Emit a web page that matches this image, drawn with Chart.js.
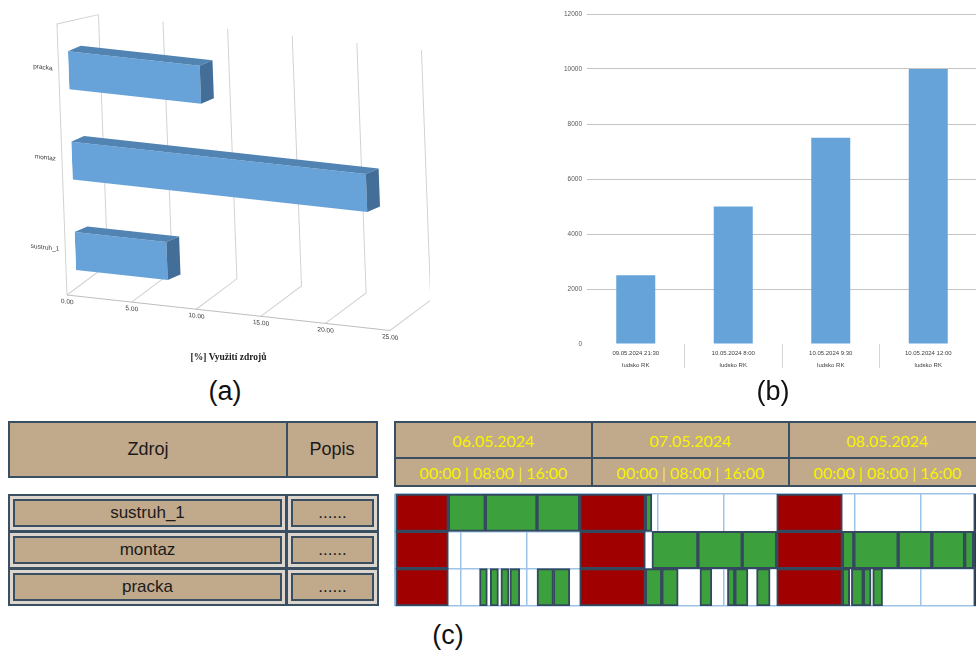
<!DOCTYPE html>
<html>
<head>
<meta charset="utf-8">
<script src="https://cdn.jsdelivr.net/npm/chart.js@4.4.1/dist/chart.umd.min.js"></script>
<style>
html, body { margin: 0; padding: 0; width: 976px; height: 653px; overflow: hidden; background: #fff; }
canvas { position: absolute; }
.caption { position: absolute; width: 60px; margin-left: -30px; text-align: center; font: 27px 'Liberation Sans', Arial, sans-serif; line-height: 1; color: #111; }
#resHead { position: absolute; left: 8px; top: 421px; width: 370px; height: 57px; box-sizing: border-box; border: 2px solid #3b4f63; background: #c1a98c; display: grid; grid-template-columns: 276px 1fr; }
#resHead div { display: flex; align-items: center; justify-content: center; font: 18px 'Liberation Sans', Arial, sans-serif; color: #1b1b1b; }
#resHead div + div { border-left: 2px solid #3b4f63; }
#resRows { position: absolute; left: 8px; top: 494px; width: 371px; height: 112px; box-sizing: border-box; background: #3b4f63; padding: 1px; display: grid; grid-template-columns: 277px 1fr; grid-auto-rows: 1fr; gap: 1px; }
#resRows div { box-sizing: border-box; border: 1px solid #3b4f63; background: #c1a98c; box-shadow: inset 0 0 0 3px #dcd6ce, inset 0 0 0 5px #3b4f63; display: flex; align-items: center; justify-content: center; font: 17px 'Liberation Sans', Arial, sans-serif; color: #1b1b1b; }
#timeHead { position: absolute; left: 394px; top: 421px; width: 593px; border-collapse: collapse; table-layout: fixed; }
#timeHead td { border: 2px solid #3b4f63; background: #c1a98c; color: #f7f300; text-align: center; padding: 0; font-family: Lato, 'Open Sans', sans-serif; white-space: nowrap; }
#timeHead tr.days td { height: 34px; font-size: 16px; }
#timeHead tr.shifts td { height: 26px; font-size: 16px; }
</style>
</head>
<body>
<canvas id="usage" width="430" height="375" style="left:0;top:0"></canvas>
<canvas id="load" width="440" height="380" style="left:540px;top:0"></canvas>
<div class="caption" style="left:225px;top:378px">(a)</div>
<div class="caption" style="left:773px;top:378px">(b)</div>

<div id="resHead"></div>
<div id="resRows"></div>
<table id="timeHead"></table>
<canvas id="gantt" width="595" height="116" style="left:393px;top:492px"></canvas>
<div class="caption" style="left:448px;top:622px">(c)</div>

<script>
// (a) utilisation of resources
const usageLabels = ['pracka', 'montaz', 'sustruh_1'];
const usageValues = [10.2, 22.8, 7.1];

// (b) load over time
const loadDates = ['09.05.2024 21:30', '10.05.2024 8:00', '10.05.2024 9:30', '10.05.2024 12:00'];
const loadGroups = ['ludsko RK', 'ludsko RK', 'ludsko RK', 'ludsko RK'];
const loadValues = [2500, 5000, 7500, 10000];

// (c) gantt: resources, header, non-working time and operations [start h, end h] from 06.05. 00:00
const resources = ['sustruh_1', 'montaz', 'pracka'];
const descriptions = ['......', '......', '......'];
const ganttDays = ['06.05.2024', '07.05.2024', '08.05.2024'];
const shiftStarts = ['00:00', '08:00', '16:00'];
const offShift = [[0, 6.5], [22.5, 30.5], [46.5, 54.5], [70.5, 78.5]];
const sustruhTasks = [[6.5, 11.0], [11.0, 17.3], [17.3, 22.5], [30.5, 31.3]];
const montazTasks = [[31.3, 36.9], [36.9, 42.3], [42.3, 46.5], [54.5, 55.9], [55.9, 61.3], [61.3, 65.4], [65.4, 69.4], [69.4, 70.5]];
const prackaTasks = [[10.3, 11.25], [11.6, 12.6], [12.9, 13.9], [14.0, 15.2], [17.3, 19.3], [19.3, 21.3],
    [30.5, 32.5], [32.5, 34.5], [37.15, 38.6], [40.5, 41.4], [41.4, 43.0], [44.05, 45.7],
    [54.5, 55.4], [55.6, 57.05], [57.05, 58.0], [58.2, 59.4]];

const tinyFont = { family: "'Liberation Sans', Arial, sans-serif", size: 6.5 };

// 3D look for chart (a): shear the drawing, walls behind, top/side faces on bars
const SHEAR_X = 0.037, SHEAR_Y = 0.11;
const WALL_DX = 42, WALL_TOP_DY = -14, WALL_BOTTOM_DY = -35;
const BAR_SHIFT = 10, BAR_DX = 13, BAR_DY = 7;
const perspective = {
    id: 'perspective',
    beforeDraw(chart) {
        const { ctx, chartArea } = chart;
        ctx.save();
        ctx.transform(1, SHEAR_Y, SHEAR_X, 1, -SHEAR_X * chartArea.bottom, -SHEAR_Y * chartArea.left);
    },
    beforeDatasetsDraw(chart) {
        const { ctx, chartArea: { left, right, top, bottom } } = chart;
        const xs = chart.scales.x;
        ctx.save();
        ctx.strokeStyle = '#d2d2d2';
        ctx.lineWidth = 1;
        ctx.beginPath();
        xs.ticks.forEach(t => {
            const px = xs.getPixelForValue(t.value);
            ctx.moveTo(px, bottom);
            ctx.lineTo(px + WALL_DX, bottom + WALL_BOTTOM_DY);
            ctx.lineTo(px + WALL_DX, top + WALL_TOP_DY);
        });
        ctx.moveTo(left + WALL_DX, top + WALL_TOP_DY);
        ctx.lineTo(left, top);
        ctx.lineTo(left, bottom);
        ctx.stroke();
        ctx.strokeStyle = '#bdbdbd';
        ctx.beginPath();
        ctx.moveTo(left, bottom);
        ctx.lineTo(right, bottom);
        ctx.stroke();
        ctx.restore();
        ctx.save();
        ctx.translate(BAR_SHIFT, 0);
    },
    afterDatasetsDraw(chart) {
        const ctx = chart.ctx;
        chart.getDatasetMeta(0).data.forEach(bar => {
            const { x, y, base, height } = bar.getProps(['x', 'y', 'base', 'height'], true);
            const t = y - height / 2, b = y + height / 2;
            ctx.fillStyle = '#5183b3';
            ctx.beginPath();
            ctx.moveTo(base, t); ctx.lineTo(x, t);
            ctx.lineTo(x + BAR_DX, t - BAR_DY); ctx.lineTo(base + BAR_DX, t - BAR_DY);
            ctx.closePath(); ctx.fill();
            ctx.fillStyle = '#426e97';
            ctx.beginPath();
            ctx.moveTo(x, t); ctx.lineTo(x + BAR_DX, t - BAR_DY);
            ctx.lineTo(x + BAR_DX, b - BAR_DY); ctx.lineTo(x, b);
            ctx.closePath(); ctx.fill();
        });
        ctx.restore();
        ctx.restore();
    }
};

const usageChart = new Chart(document.getElementById('usage'), {
    type: 'bar',
    data: {
        labels: usageLabels,
        datasets: [{ label: 'Využití', data: usageValues, backgroundColor: '#67a3d9', barPercentage: 0.42, categoryPercentage: 1 }]
    },
    options: {
        indexAxis: 'y',
        responsive: false,
        animation: false,
        layout: { padding: { left: 0, right: 40, top: 24, bottom: 0 } },
        plugins: { legend: { display: false }, tooltip: { enabled: false } },
        scales: {
            x: {
                min: 0, max: 25,
                ticks: { stepSize: 5, callback: v => v.toFixed(2), font: tinyFont, color: '#404040', padding: 3, maxRotation: 0 },
                grid: { display: false, drawTicks: false, z: 1 },
                border: { display: false },
                title: { display: true, text: '[%] Využití zdrojů', color: '#222', padding: { top: 0, bottom: 12 },
                    font: { family: "'Liberation Serif', 'Times New Roman', serif", size: 9.5, weight: 'bold' } },
                afterFit(scale) { scale.height = 80; }
            },
            y: {
                ticks: { font: tinyFont, color: '#404040', padding: 6 },
                grid: { display: false, drawTicks: false },
                border: { display: false },
                afterFit(scale) { scale.width = 67; }
            }
        }
    },
    plugins: [perspective]
});

const loadChart = new Chart(document.getElementById('load'), {
    type: 'bar',
    data: {
        labels: loadDates.map((d, i) => [d, loadGroups[i]]),
        datasets: [{ label: 'Zatížení', data: loadValues, backgroundColor: '#65a3d9', barPercentage: 0.4, categoryPercentage: 1 }]
    },
    options: {
        responsive: false,
        animation: false,
        layout: { padding: { left: 0, right: 3, top: 14, bottom: 0 } },
        plugins: { legend: { display: false }, tooltip: { enabled: false } },
        scales: {
            x: {
                ticks: { font: { family: tinyFont.family, size: 6, lineHeight: 2 }, color: '#404040', padding: -21, maxRotation: 0 },
                grid: { offset: true, drawOnChartArea: false, tickLength: 24,
                    color: c => c.index === 0 ? 'rgba(0,0,0,0)' : '#d6d6d6' },
                border: { display: false },
                afterFit(scale) { scale.height = 36; }
            },
            y: {
                min: 0, max: 12000,
                ticks: { stepSize: 2000, callback: v => String(v), font: tinyFont, color: '#595959', padding: 5 },
                grid: { drawTicks: false, color: c => c.tick && c.tick.value === 0 ? 'rgba(0,0,0,0)' : '#c4c4c4' },
                border: { display: false },
                afterFit(scale) { scale.width = 47; }
            }
        }
    }
});

// (c) tables
document.getElementById('resHead').innerHTML = '<div>Zdroj</div><div>Popis</div>';
document.getElementById('resRows').innerHTML = resources.map((r, i) => `<div>${r}</div><div>${descriptions[i]}</div>`).join('');
document.getElementById('timeHead').innerHTML =
    '<tr class="days">' + ganttDays.map(d => `<td>${d}</td>`).join('') + '</tr>' +
    '<tr class="shifts">' + ganttDays.map(() => `<td>${shiftStarts.join(' | ')}</td>`).join('') + '</tr>';

const toItems = (row, list) => list.map(iv => ({ x: iv, y: row }));

const ganttChart = new Chart(document.getElementById('gantt'), {
    type: 'bar',
    data: {
        labels: resources,
        datasets: [
            { label: 'Mimo směnu', data: resources.flatMap(r => toItems(r, offShift)), backgroundColor: '#a00000' },
            { label: 'Operace', backgroundColor: '#3ca03c',
              data: [...toItems('sustruh_1', sustruhTasks), ...toItems('montaz', montazTasks), ...toItems('pracka', prackaTasks)] }
        ]
    },
    options: {
        indexAxis: 'y',
        responsive: false,
        animation: false,
        layout: { padding: 2 },
        datasets: { bar: { barPercentage: 1, categoryPercentage: 1, grouped: false, borderWidth: 2, borderColor: '#34495e', borderSkipped: false } },
        plugins: { legend: { display: false }, tooltip: { enabled: false } },
        scales: {
            x: { type: 'linear', min: 0, max: 72, ticks: { stepSize: 8, display: false },
                 grid: { color: '#9dc3e6', lineWidth: 1.5, drawTicks: false }, border: { display: false } },
            y: { ticks: { display: false }, grid: { offset: true, color: '#9dc3e6', lineWidth: 1.5, drawTicks: false }, border: { display: false } }
        }
    }
});
</script>
</body>
</html>
